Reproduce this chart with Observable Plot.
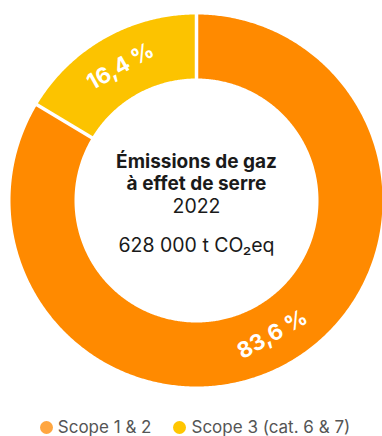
<!DOCTYPE html>
<html>
<head>
<meta charset="utf-8">
<script src="https://cdn.jsdelivr.net/npm/d3@7"></script>
<script src="https://cdn.jsdelivr.net/npm/@observablehq/plot@0.6"></script>
<style>
  html, body { margin: 0; padding: 0; background: #fff; }
  #chart { width: 382px; }
  .legend { display: flex; justify-content: center; align-items: center; gap: 22px;
    font-family: Inter, "Liberation Sans", sans-serif; font-size: 17px; color: #555;
    height: 22px; padding-top: 4px; margin-left: 8px; }
  .legend span.item { display: flex; align-items: center; gap: 5px; white-space: nowrap; }
  .legend span.dot { width: 13px; height: 13px; border-radius: 50%; display: inline-block; }
</style>
</head>
<body>
<div id="chart"></div>
<script>
// ---- data ----
const categories = ["Scope 1 & 2", "Scope 3 (cat. 6 & 7)"];
const shares = [83.6, 16.4];
const sliceColors = ["#FF8A00", "#FCC300"];
const legendColors = ["#FFA640", "#FFC600"];
const shareLabels = ["83,6 %", "16,4 %"];
const titleLines = ["Émissions de gaz", "à effet de serre"];
const yearLabel = "2022";
const totalLabel = "628 000 t CO₂eq";

// ---- geometry (in scale units) ----
const R = 186, r0 = 122, rMid = (R + r0) / 2;
const total = d3.sum(shares);
let acc = 0;
const slices = categories.map((c, i) => {
  const a0 = acc / total * 360;
  acc += shares[i];
  const a1 = acc / total * 360;
  return {category: c, a0, a1, mid: (a0 + a1) / 2, label: shareLabels[i]};
});
const pt = (rad, deg) => {
  const t = deg * Math.PI / 180;
  return [rad * Math.sin(t), rad * Math.cos(t)];
};
const ringPts = [];
for (const s of slices) {
  const n = Math.max(20, Math.ceil((s.a1 - s.a0) * 2));
  for (let k = 0; k <= n; k++) {
    const [x, y] = pt(R, s.a0 + (s.a1 - s.a0) * k / n);
    ringPts.push({category: s.category, x, y});
  }
  for (let k = n; k >= 0; k--) {
    const [x, y] = pt(r0, s.a0 + (s.a1 - s.a0) * k / n);
    ringPts.push({category: s.category, x, y});
  }
}
const separators = slices.map(s => {
  const [x1, y1] = pt(r0 - 2, s.a0);
  const [x2, y2] = pt(R + 2, s.a0);
  return {x1, y1, x2, y2};
});
const labelPts = slices.map(s => {
  const [x, y] = pt(rMid, s.mid);
  const rot = s.mid > 180 ? s.mid - 360 : s.mid - 180;
  return {x, y, text: s.label, rot};
});

const font = "Inter, 'Liberation Sans', sans-serif";
const plot = Plot.plot({
  width: 382,
  height: 412,
  margin: 0,
  x: {domain: [-R, R], range: [10, 382], axis: null},
  y: {domain: [-R, R], range: [386, 14], axis: null},
  color: {domain: categories, range: sliceColors},
  style: {background: "white"},
  marks: [
    Plot.line(ringPts, {x: "x", y: "y", z: "category", fill: "category", stroke: "none", curve: "linear-closed"}),
    Plot.link(separators, {x1: "x1", y1: "y1", x2: "x2", y2: "y2", stroke: "white", strokeWidth: 3.5}),
    Plot.text(labelPts, {x: "x", y: "y", text: "text", rotate: "rot", fill: "white",
      fontSize: 22, fontWeight: 700, fontFamily: font}),
    Plot.text([titleLines[0]], {x: () => 0, y: () => 0, text: d => d, dy: -39, fontSize: 19, fontWeight: 700, fill: "#1a1a1a", fontFamily: font}),
    Plot.text([titleLines[1]], {x: () => 0, y: () => 0, text: d => d, dy: -17, fontSize: 19, fontWeight: 700, fill: "#1a1a1a", fontFamily: font}),
    Plot.text([yearLabel], {x: () => 0, y: () => 0, text: d => d, dy: 6, fontSize: 19.5, fill: "#1a1a1a", fontFamily: font}),
    Plot.text([totalLabel], {x: () => 0, y: () => 0, text: d => d, dy: 45, fontSize: 19.5, fill: "#1a1a1a", fontFamily: font})
  ]
});
const root = document.getElementById("chart");
root.appendChild(plot);
const legend = document.createElement("div");
legend.className = "legend";
categories.forEach((c, i) => {
  const item = document.createElement("span");
  item.className = "item";
  const dot = document.createElement("span");
  dot.className = "dot";
  dot.style.background = legendColors[i];
  const label = document.createElement("span");
  label.textContent = c;
  item.appendChild(dot);
  item.appendChild(label);
  legend.appendChild(item);
});
root.appendChild(legend);
</script>
</body>
</html>
